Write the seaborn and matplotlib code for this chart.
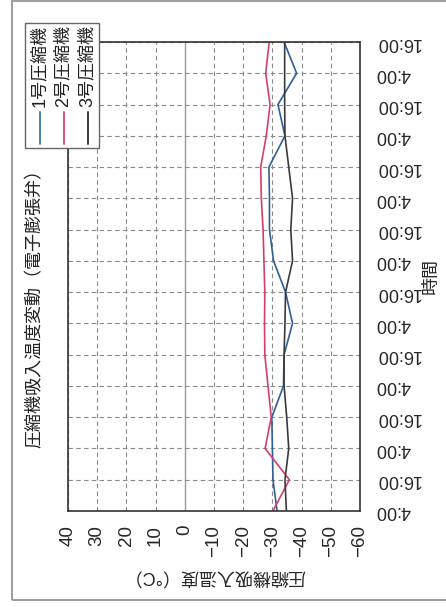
import os
import matplotlib
matplotlib.use("Agg")
import matplotlib.pyplot as plt
import matplotlib.font_manager as fm
import numpy as np
import pandas as pd
import seaborn as sns
from matplotlib.patches import Rectangle
from matplotlib.lines import Line2D

# ---------------- data ----------------
time_labels = ["4:00", "16:00", "4:00", "16:00", "4:00", "16:00", "4:00", "16:00",
               "4:00", "16:00", "4:00", "16:00", "4:00", "16:00", "4:00", "16:00"]
temp_ticks = [40, 30, 20, 10, 0, -10, -20, -30, -40, -50, -60]
series_names = ["1号圧縮機", "2号圧縮機", "3号圧縮機"]
comp1 = [-31.6, -30.2, -30.0, -29.8, -33.8, -34.0, -36.9, -34.5,
         -30.4, -29.0, -29.0, -28.8, -34.3, -31.9, -38.3, -34.0]
comp2 = [-30.2, -35.8, -27.5, -29.6, -28.5, -27.4, -27.3, -27.4,
         -27.1, -26.8, -26.2, -26.0, -27.9, -29.2, -27.7, -28.9]
comp3 = [-34.8, -34.3, -35.6, -34.9, -34.0, -34.0, -34.3, -34.5,
         -36.9, -36.3, -36.9, -35.6, -34.3, -34.2, -34.2, -34.2]
line_colors = ["#2e5f98", "#d23f6f", "#3a3a3a"]
legend_colors = ["#4a7fb0", "#e0507a", "#3a3a3a"]
title_text = "圧縮機吸入温度変動（電子膨張弁）"
xlabel_text = "圧縮機吸入温度（°C）"
ylabel_text = "時間"

n = len(time_labels)
df = pd.DataFrame({
    "time": list(range(n)) * 3,
    "temp": comp1 + comp2 + comp3,
    "series": [series_names[0]] * n + [series_names[1]] * n + [series_names[2]] * n,
})

sns.set_theme(style="white")
plt.rcParams["font.family"] = ["Liberation Sans", "Noto Sans CJK JP", "DejaVu Sans"]
plt.rcParams["axes.unicode_minus"] = True

# robust choice of the regular (non-narrow) Liberation Sans for numbers
lib_path = None
for f in fm.fontManager.ttflist:
    if os.path.basename(f.fname) == "LiberationSans-Regular.ttf":
        lib_path = f.fname
        break

def num_font(size):
    if lib_path:
        return fm.FontProperties(fname=lib_path, size=size)
    return fm.FontProperties(family=["Liberation Sans", "DejaVu Sans"], size=size)

W, H = 446, 607
fig = plt.figure(figsize=(W / 100, H / 100), dpi=100)
fig.patch.set_facecolor("white")

def fx(x):
    return x / W

def fy(y):
    return 1 - y / H

ax_l, ax_r, ax_t, ax_b = 68, 360, 42, 511
ax = fig.add_axes([fx(ax_l), fy(ax_b), (ax_r - ax_l) / W, (ax_b - ax_t) / H])

sns.lineplot(data=df, x="temp", y="time", hue="series", palette=line_colors,
             orient="y", estimator=None, legend=False, linewidth=1.2, ax=ax)

ax.set_xlim(40, -60)
ax.set_ylim(0, n - 1)
ax.set_xticks(temp_ticks)
ax.set_xticklabels([str(t).replace("-", "\u2212") for t in temp_ticks],
                   rotation=90, fontproperties=num_font(13.5))
ax.set_yticks(range(n))
ax.set_yticklabels(time_labels, rotation=180, va="center", ha="left",
                   fontproperties=num_font(13))
ax.yaxis.tick_right()
ax.tick_params(axis="x", length=0, pad=10)
ax.tick_params(axis="y", length=0, pad=11)

ax.set_axisbelow(True)
ax.grid(True, axis="both", color="#8a8a8a", linestyle=(0, (4, 3)), linewidth=0.8)
for tick in ax.xaxis.get_major_ticks():
    if tick.get_loc() == 0:
        tick.gridline.set_linestyle("-")
        tick.gridline.set_color("#9a9a9a")
        tick.gridline.set_linewidth(1.0)

for s in ax.spines.values():
    s.set_visible(True)
    s.set_color("#333333")
    s.set_linewidth(1.2)

ax.set_xlabel(xlabel_text, fontsize=13, rotation=180)
ax.xaxis.set_label_coords(0.5, (ax_b - 575) / (ax_b - ax_t))
ax.xaxis.label.set_va("center")
ax.xaxis.label.set_ha("center")
ax.set_ylabel(ylabel_text, fontsize=13, rotation=90)
ax.yaxis.set_label_position("right")
ax.yaxis.set_label_coords((431 - ax_l) / (ax_r - ax_l), 0.5)
ax.yaxis.label.set_va("center")
ax.yaxis.label.set_ha("center")

# title (rotated, on the left)
fig.text(fx(35), fy(304), title_text, rotation=90, ha="center", va="center",
         fontsize=13, color="#222222")

# legend box (manual, rotated)
fig.patches.append(Rectangle((fx(25), fy(148)), (99 - 25) / W, (148 - 23) / H,
                             transform=fig.transFigure, facecolor="white",
                             edgecolor="#666666", linewidth=1.0, zorder=5))
for i, (name, c) in enumerate(zip(series_names, legend_colors)):
    xc = 39.5 + 24 * i
    fig.lines.append(Line2D([fx(xc), fx(xc)], [fy(144), fy(112)],
                            transform=fig.transFigure, color=c, linewidth=1.4, zorder=6))
    fig.text(fx(xc), fy(107), name, rotation=90, ha="center", va="bottom",
             fontsize=13, color="#222222", zorder=7)

# outer frame of the scanned figure
fig.patches.append(Rectangle((fx(12), fy(600)), (W + 5 - 12) / W, (600 - 1) / H,
                             transform=fig.transFigure, facecolor="none",
                             edgecolor="#a0a0a0", linewidth=1.5, zorder=4))

fig.savefig("out.png", dpi=100, facecolor="white")
